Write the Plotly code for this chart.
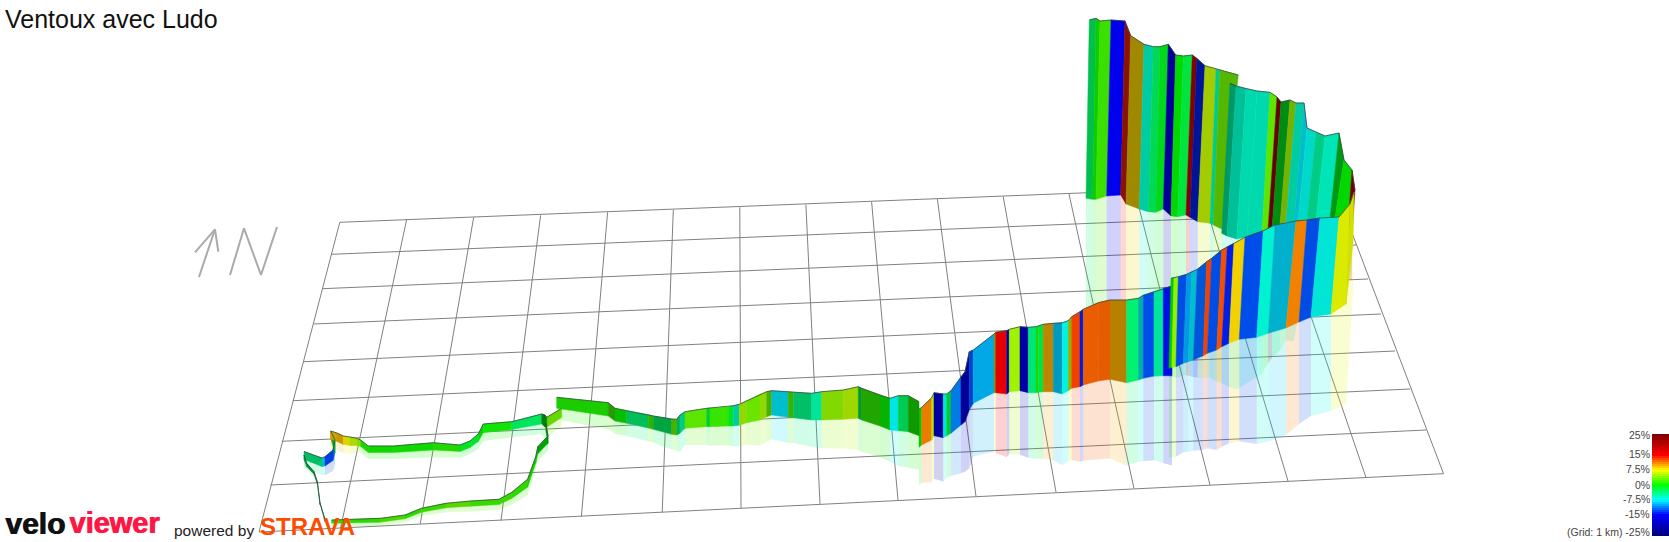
import plotly.graph_objects as go

# ---------- data (pixel-plane coordinates) ----------
grid_left_x = [339.8, 331.6, 322.7, 313.7, 303.5, 292.9, 281.8, 270.4, 259.0]
grid_left_y = [222.3, 254.3, 288.7, 324.0, 361.7, 400.7, 441.3, 485.0, 532.0]
grid_right_x = [1333, 1344, 1356, 1368, 1381, 1395, 1410, 1426, 1443.5]
grid_right_y = [183, 213, 245, 279, 314, 351, 389, 430, 473.7]
grid_top_x = [339.8, 406.7, 473.7, 540.6, 607.6, 673.3, 739.8, 805.9, 871.6, 937.4, 1003.2, 1069, 1134.8, 1200.6, 1266.4, 1333]
grid_top_y = [222.3, 219.3, 217.3, 215.3, 212.3, 210, 207.3, 204.7, 201.7, 199, 196.5, 194, 191, 188.5, 186, 183]
grid_bot_x = [259, 340.6, 420.2, 501, 581.4, 662.2, 741, 820, 898, 976, 1056, 1134, 1210, 1288, 1366, 1443.5]
grid_bot_y = [532, 528, 524, 520.5, 516.5, 512.5, 508, 504, 500, 496.5, 492, 488.5, 485, 481, 477.5, 473.7]

# bottom branch of the loop
loop_x = [331.6, 380.6, 405, 421.4, 446, 470.4, 499, 511.2, 527.6, 535.7, 537.8, 548, 545.9]
loop_top = [520, 518.3, 515, 508.3, 503.3, 501, 499.3, 492.7, 479.3, 456.7, 446.7, 436, 423.3]
loop_base = [523.2, 522.2, 518.8, 512.2, 507.8, 506.2, 504.5, 498.8, 487.2, 463.2, 453.8, 443.2, 430.5]
loop_grade = [1.5, 2.5, 1.5, 2, 3, 2, 2, 1.5, 1, 0.5, 0, -1]
loop_shade = [.85, .85, .85, .85, .85, .85, .85, .85, .8, .75, .65, .5]

# thin dark climb on the far left
link_x = [325, 320, 317.3, 314, 306.7, 304]
link_top = [519.5, 503, 481.7, 471.7, 463.3, 455]
link_base = [521.5, 505, 484, 474.2, 466.5, 459.5]
link_grade = [-3, -3, -3, -3, -3]
link_shade = [.5, .5, .5, .55, .55]

# hairpin and upper branch of the loop
upper_x = [304, 322, 325, 333, 335, 331.7, 330.7, 337, 343.3, 350, 356.7, 360.7, 368.3, 393.3, 433.3, 460, 470, 478.3, 483.3, 511.7, 541.7, 545, 546.7]
upper_top = [451.5, 458, 456.7, 450, 440, 433, 431, 433, 436, 437, 438.3, 440, 446, 446, 442.7, 445, 441, 434, 424, 421.7, 414, 415, 417.3]
upper_base = [459.5, 466.5, 466, 460.5, 452.5, 441.5, 438.5, 441.5, 444.5, 445.5, 445.5, 446.5, 452.5, 452.5, 450, 451.5, 447.5, 441.5, 432.5, 429.5, 424, 427, 427.5]
upper_grade = [-4, -8, -13, -12, -1, 9, 9, 9.5, 7.5, 6, 5, 1, .5, .6, 1.2, -1, -1.5, 0, .5, -3, -1, -1]
upper_shade = [.75, .8, .9, .9, .7, .7, .8, .8, .85, .85, .85, .85, .85, .85, .85, .9, .9, .85, .9, .9, .5, .5]

# short ramp
ramp_x = [546.7, 561.7]
ramp_top = [417.3, 408.3]
ramp_base = [427.3, 417.3]
ramp_grade = [3.5]
ramp_shade = [.85]

# main valley section
main_x = [556.7, 608.3, 615, 626.7, 648.3, 653.3, 671.7, 676.7, 680, 685, 706.7, 710, 728.3, 733.3, 739.3, 746.7, 760, 766.7, 771.7, 788.3, 793.3, 811.7, 821.7, 843.3, 858.3, 861.7, 880, 890, 898.3, 908.3, 919]
main_top = [397.3, 402.7, 408.3, 410.7, 414.7, 416, 419, 419.3, 415, 411.7, 408.3, 408, 406.7, 405.7, 404.3, 400.7, 394.3, 391.7, 390.7, 391.7, 392.3, 393.3, 391.7, 390, 386.7, 388.3, 395, 398.3, 395.7, 395.7, 401.7]
main_base = [408.3, 416, 421, 423.3, 428, 429.3, 434.3, 435, 433.3, 428.3, 426.7, 426.7, 426, 426, 425.3, 422.7, 420, 416.7, 415, 417.3, 417.7, 420, 420, 419.3, 418.3, 420, 426, 430, 430.7, 431.7, 435.7]
main_grade = [1, 2, .3, -3.5, 2, -3, 3, -3, -5, 3, -2, 1.8, -1, -6, 5, 3.5, 5, 3, -8, 2.5, -4, -5, 4.5, 5.5, -2, 1.5, .3, -7.5, -3, .8]
main_shade = [.8, .6, .75, .75, .7, .65, .7, .7, .8, .9, .8, .9, .9, .8, .85, .9, .85, .7, .8, .7, .75, .9, .85, .85, .6, .65, .7, .9, .8, .6]

# front wall of the climb, first part
frontA_x = [919, 921.7, 931.7, 934, 943.3, 946.7, 951, 961, 965, 969.3, 973.3, 994, 995.7, 1006.7, 1009.3, 1020, 1028.3, 1036, 1038.3, 1043.3, 1053.3, 1062.3, 1068.3, 1071.7, 1080, 1083.3, 1098.3, 1110, 1126.7, 1138.3, 1143.3, 1154, 1163.3, 1172]
frontA_top = [409.3, 407.3, 397.7, 392.7, 394, 394, 390.7, 376.7, 371.7, 351.7, 350, 334, 332.3, 330.7, 329.3, 326.7, 327.3, 326.7, 326, 324.3, 323.3, 322.7, 320.7, 316.7, 311.7, 309.3, 302.7, 300, 300, 298.3, 295.3, 291.7, 288.3, 286]
frontA_base = [447.3, 445, 440, 435.7, 437.7, 435.7, 433.3, 425, 421.7, 410, 403.3, 392.7, 392.7, 394, 391.7, 390.7, 392.7, 392.7, 392.3, 391.7, 391.7, 394, 390.7, 388.3, 386.7, 385, 381, 379.3, 382.7, 380, 378.3, 376, 375.7, 375.7]
frontA_grade = [0, 11, 6, -20, -7, -2, -11, -15, -20, -12.5, -9.5, 6, 15, -19, 5, -19.5, -4, 1, -2, 9.75, -9, -7, 6, 13, -14, 12, 12, 9.75, -3.5, -7, -12.5, -5, -14.5]
frontA_shade = [.8, .92, .9, .85, .9, .8, .9, .6, .8, .8, .9, .6, .9, .85, .95, .85, .9, .85, .9, .75, .75, .95, .7, .95, .85, .92, .9, .72, .95, .7, .92, .9, .9]

# front wall of the climb, second part
frontB_x = [1171, 1174, 1178.3, 1186.7, 1191.7, 1197.3, 1206.7, 1211.7, 1221.7, 1227.3, 1234, 1245, 1263.3, 1275, 1296, 1307, 1320, 1339, 1350, 1354]
frontB_top = [278.3, 277.7, 276.7, 274.3, 271.7, 269.3, 261.7, 258.3, 250, 246.7, 243.3, 237.3, 230.7, 225, 221, 220, 218, 217, 204, 192]
frontB_xbase = [1169, 1171.7, 1176, 1183.3, 1188.3, 1193.3, 1203.3, 1207.3, 1216.7, 1221.7, 1229, 1239.3, 1256.7, 1268.3, 1286, 1299, 1311, 1331, 1346, 1353]
frontB_base = [368.3, 367.3, 366.7, 363.3, 361.7, 360, 355.7, 353.3, 350, 346.7, 343.3, 339.3, 337.3, 333.3, 328, 322, 317, 314, 304, 243]
frontB_grade = [0, 4.5, -12.5, -10, -8, -12, 13, -12.5, 12.5, -14, 8.5, -12.5, -6.5, -8.5, 11, -12.5, -7, 7, 7]
frontB_shade = [.8, .95, .9, .9, .8, .85, .95, .9, .95, .9, .95, .92, .95, .8, .95, .9, .9, .92, .88]

# back wall of the climb, first part
backA_x = [1089.3, 1096, 1100, 1111, 1125, 1130.7, 1144, 1153.3, 1160, 1168.3, 1175.7, 1183.3, 1192.3, 1196.7, 1205, 1216, 1220, 1238.3]
backA_top = [20, 18.3, 21, 20, 21, 35.7, 44.3, 46.7, 46.7, 44.3, 55, 56, 55, 58.3, 65.7, 69, 70, 75]
backA_xbase = [1086, 1092.7, 1096, 1106.7, 1120.7, 1126, 1139.3, 1148.3, 1155.7, 1163.3, 1171, 1177.7, 1186, 1190, 1197.7, 1210, 1213.3, 1221.7]
backA_base = [198.3, 199.3, 199.3, 196, 195, 204, 209, 211.7, 212.3, 209, 216, 216.7, 215, 217.3, 221.7, 223.3, 225, 229]
backA_grade = [-3, .5, 2, -15.5, 14, 8.5, -6, -3, -1, -20, 0, -2, 20, -14, 6, -5, 3.5]
backA_shade = [.75, .8, .88, .95, .55, .62, .8, .85, .85, .8, .85, .9, .7, .6, .8, .8, .72]

# back wall of the climb, second part
backB_x = [1230, 1236, 1246, 1257, 1270, 1277, 1281, 1290, 1296, 1304, 1307, 1316, 1325, 1339, 1344, 1352, 1355]
backB_top = [83.3, 86, 88.5, 91, 92.3, 97, 102, 100, 103, 103, 128, 132, 136, 133, 160, 170, 190]
backB_xbase = [1221.7, 1227, 1236.7, 1247, 1262, 1268, 1272, 1280, 1286, 1294, 1298, 1307, 1316, 1330, 1335, 1348, 1352]
backB_base = [233.3, 236, 239, 237, 233, 230, 230, 225, 222, 222, 222, 220, 220, 218, 218, 225, 235]
backB_grade = [-5, -6, -6, -6, 3, 20, -1, 5, -6, -8, -7, -5, -6, -1, 0, 20]
backB_shade = [.6, .75, .85, .85, .9, .55, .55, .7, .8, .8, .85, .8, .9, .6, .85, .6]

legend_labels = ["25%", "15%", "7.5%", "0%", "-7.5%", "-15%", "(Grid: 1 km) -25%"]
legend_values = [25, 15, 7.5, 0, -7.5, -15, -25]
legend_y = [435, 454, 469, 485, 499, 514, 532]
ramp_values = list(range(-25, 26))

north_arrow_x = [199, 215, None, 195, 215, 218.3]
north_arrow_y = [277, 229.3, None, 252.3, 229.3, 251.7]
north_n_x = [230, 244, 261, 277]
north_n_y = [275, 228.3, 275, 227]

# ---------- colours ----------
stops = [(-25, (0, 0, 128)), (-15, (0, 0, 255)), (-7.5, (0, 255, 255)), (0, (0, 255, 0)),
         (7.5, (255, 255, 0)), (15, (255, 0, 0)), (25, (128, 0, 0))]


def grade_rgb(g):
    for (a, ca), (b, cb) in zip(stops, stops[1:]):
        if g <= b:
            t = (g - a) / (b - a)
            return tuple(ca[i] + t * (cb[i] - ca[i]) for i in range(3))
    return stops[-1][1]


def css(g, shade=1.0, alpha=1.0):
    r = grade_rgb(g)
    return "rgba(%d,%d,%d,%.3f)" % (r[0] * shade, r[1] * shade, r[2] * shade, alpha)


fig = go.Figure()

# ---------- grid ----------
gx, gy = [], []
for a, b, c, d in zip(grid_left_x, grid_left_y, grid_right_x, grid_right_y):
    gx += [a, c, None]
    gy += [b, d, None]
for a, b, c, d in zip(grid_top_x, grid_top_y, grid_bot_x, grid_bot_y):
    gx += [a, c, None]
    gy += [b, d, None]
fig.add_trace(go.Scatter(x=gx, y=gy, mode="lines", line=dict(color="#808080", width=1), hoverinfo="skip"))

# ---------- walls ----------
sections = [
    (backA_x, backA_top, backA_xbase, backA_base, backA_grade, backA_shade),
    (backB_x, backB_top, backB_xbase, backB_base, backB_grade, backB_shade),
    (frontA_x, frontA_top, frontA_x, frontA_base, frontA_grade, frontA_shade),
    (frontB_x, frontB_top, frontB_xbase, frontB_base, frontB_grade, frontB_shade),
    (main_x, main_top, main_x, main_base, main_grade, main_shade),
    (ramp_x, ramp_top, ramp_x, ramp_base, ramp_grade, ramp_shade),
    (upper_x, upper_top, upper_x, upper_base, upper_grade, upper_shade),
    (loop_x, loop_top, loop_x, loop_base, loop_grade, loop_shade),
    (link_x, link_top, link_x, link_base, link_grade, link_shade),
]

# pale mirror image on the ground
for xt, yt, xb, yb, grades, shades in sections:
    for i, g in enumerate(grades):
        m0 = 2 * yb[i] - yt[i]
        m1 = 2 * yb[i + 1] - yt[i + 1]
        fig.add_trace(go.Scatter(x=[xb[i], xb[i + 1], xb[i + 1], xb[i], xb[i]],
                                 y=[yb[i], yb[i + 1], m1, m0, yb[i]],
                                 mode="lines", fill="toself", fillcolor=css(g, .95, .18),
                                 line=dict(width=0), hoverinfo="skip"))

for xt, yt, xb, yb, grades, shades in sections:
    for i, g in enumerate(grades):
        col = css(g, shades[i])
        fig.add_trace(go.Scatter(x=[xt[i], xt[i + 1], xb[i + 1], xb[i], xt[i]],
                                 y=[yt[i], yt[i + 1], yb[i + 1], yb[i], yt[i]],
                                 mode="lines", fill="toself", fillcolor=col,
                                 line=dict(color=col, width=.5), hoverinfo="skip"))
    fig.add_trace(go.Scatter(x=xt, y=yt, mode="lines", line=dict(color="rgba(50,70,62,.85)", width=.9), hoverinfo="skip"))

# ---------- north arrow ----------
fig.add_trace(go.Scatter(x=north_arrow_x, y=north_arrow_y, mode="lines", line=dict(color="#aaaaaa", width=2), hoverinfo="skip"))
fig.add_trace(go.Scatter(x=north_n_x, y=north_n_y, mode="lines", line=dict(color="#aaaaaa", width=2), hoverinfo="skip"))

# ---------- colour ramp ----------
scale = [[(v + 25) / 50, css(v)] for v, _ in stops]
fig.add_trace(go.Heatmap(x=[1657, 1667], y=[535 - (v + 25) * 2 for v in ramp_values],
                         z=[[v, v] for v in ramp_values], zmin=-25, zmax=25,
                         colorscale=scale, showscale=False, hoverinfo="skip"))
for lab, yy in zip(legend_labels, legend_y):
    fig.add_annotation(x=1652, y=yy, text=lab, showarrow=False, xanchor="right", yanchor="middle",
                       font=dict(family="Liberation Sans", size=10.5, color="#444444"))

# ---------- title and logos ----------
fig.add_annotation(x=3, y=19, text="Ventoux avec Ludo", showarrow=False, xanchor="left", yanchor="middle",
                   font=dict(family="Liberation Sans", size=25, color="#111111"))
for dx in (0, .8):
    fig.add_annotation(x=3 + dx, y=523, text="<b>velo</b>", showarrow=False, xanchor="left", yanchor="middle",
                       font=dict(family="Liberation Sans", size=30, color="#111111"))
    fig.add_annotation(x=67 + dx, y=523, text="<b>viewer</b>", showarrow=False, xanchor="left", yanchor="middle",
                       font=dict(family="Liberation Sans", size=29, color="#ff1744"))
fig.add_annotation(x=172, y=530, text="powered by", showarrow=False, xanchor="left", yanchor="middle",
                   font=dict(family="Liberation Sans", size=15.5, color="#222222"))
fig.add_annotation(x=258, y=526, text="<b>STRAVA</b>", showarrow=False, xanchor="left", yanchor="middle",
                   font=dict(family="Liberation Sans", size=24, color="#fc4c02"))

fig.update_layout(width=1669, height=542, margin=dict(l=0, r=0, t=0, b=0), showlegend=False,
                  paper_bgcolor="white", plot_bgcolor="white",
                  xaxis=dict(range=[0, 1669], visible=False, fixedrange=True),
                  yaxis=dict(range=[542, 0], visible=False, fixedrange=True))
fig.write_html("out.html", post_script="document.body.style.margin='0';document.body.style.overflow='hidden';",
               config={"displayModeBar": False})
